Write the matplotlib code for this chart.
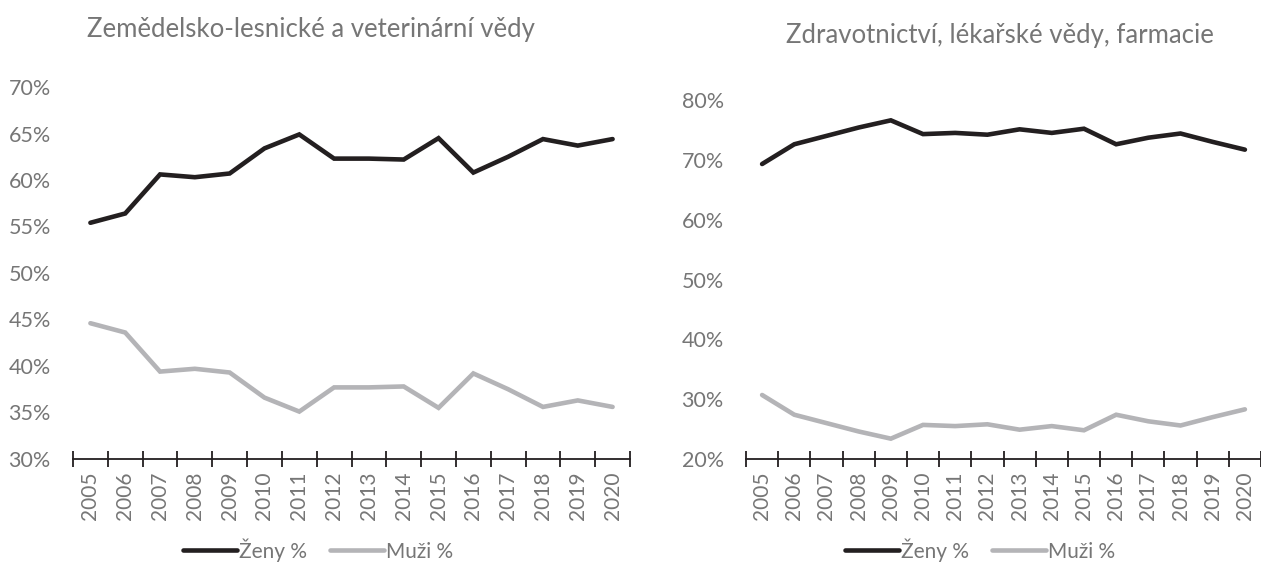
import matplotlib.pyplot as plt
import numpy as np
from matplotlib.ticker import FixedLocator, PercentFormatter

plt.rcParams['font.family'] = ['Lato', 'DejaVu Sans']

# data (percent)
roky = [str(r) for r in range(2005, 2021)]

zem_zeny = [55.4, 56.4, 60.6, 60.3, 60.7, 63.4, 64.9, 62.3, 62.3, 62.2, 64.5, 60.8, 62.5, 64.4, 63.7, 64.4]
zem_muzi = [44.6, 43.6, 39.4, 39.7, 39.3, 36.6, 35.1, 37.7, 37.7, 37.8, 35.5, 39.2, 37.5, 35.6, 36.3, 35.6]

zdr_zeny = [69.3, 72.6, 74.0, 75.4, 76.6, 74.3, 74.5, 74.2, 75.1, 74.5, 75.2, 72.6, 73.7, 74.4, 73.0, 71.7]
zdr_muzi = [30.7, 27.4, 26.0, 24.6, 23.4, 25.7, 25.5, 25.8, 24.9, 25.5, 24.8, 27.4, 26.3, 25.6, 27.0, 28.3]

C_ZENY = '#231f20'
C_MUZI = '#b4b4b7'
C_TEXT = '#767676'

fig = plt.figure(figsize=(12.61, 5.67), dpi=100)

def panel(rect, zeny, muzi, ylim, ystep, titulek, title_xy, leg_x):
    ax = fig.add_axes(rect)
    x = np.arange(len(roky))
    ax.plot(x, zeny, color=C_ZENY, lw=3.3, solid_capstyle='round', solid_joinstyle='miter', label='Ženy %')
    ax.plot(x, muzi, color=C_MUZI, lw=3.3, solid_capstyle='round', solid_joinstyle='miter', label='Muži %')
    ax.set_xlim(-0.5, len(roky) - 0.5)
    ax.set_ylim(*ylim)
    ax.set_yticks(np.arange(ylim[0], ylim[1] + 0.1, ystep))
    ax.yaxis.set_major_formatter(PercentFormatter(decimals=0))
    ax.set_xticks(x)
    ax.set_xticklabels(roky, rotation=90)
    ax.xaxis.set_minor_locator(FixedLocator(np.arange(-0.5, len(roky), 1)))
    ax.tick_params(axis='x', which='major', length=0, pad=9, labelsize=15, labelcolor=C_TEXT)
    ax.tick_params(axis='x', which='minor', length=11, width=1.3, direction='inout', color='#231f20')
    ax.tick_params(axis='y', length=0, pad=16, labelsize=15.5, labelcolor=C_TEXT)
    for s in ['top', 'right', 'left']:
        ax.spines[s].set_visible(False)
    ax.spines['bottom'].set_color('#231f20')
    ax.spines['bottom'].set_linewidth(1.3)
    ax.spines['bottom'].set_zorder(0)
    fig.text(title_xy[0], title_xy[1], titulek, ha='center', va='center', fontsize=18.5, color=C_TEXT)
    ax.legend(loc='center', bbox_to_anchor=(leg_x, 0.03), bbox_transform=fig.transFigure,
              ncol=2, frameon=False, fontsize=15, labelcolor=C_TEXT,
              handlelength=2.6, handletextpad=0.1, columnspacing=1.1)
    return ax

panel([73 / 1261, 108 / 567, 557 / 1261, 372 / 567], zem_zeny, zem_muzi, (30, 70), 5,
      'Zemědelsko-lesnické a veterinární vědy', (311 / 1261, 1 - 30 / 567), 0.252)
panel([746 / 1261, 108 / 567, 515 / 1261, 359 / 567], zdr_zeny, zdr_muzi, (20, 80), 10,
      'Zdravotnictví, lékařské vědy, farmacie', (1000 / 1261, 1 - 36 / 567), 0.777)

fig.savefig('out.png', dpi=100)
